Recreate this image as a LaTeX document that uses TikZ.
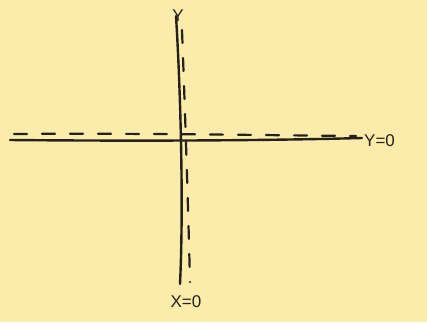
\documentclass[tikz,border=0pt]{standalone}
\usepackage{fontspec}
\setmainfont{Liberation Sans}
\definecolor{paper}{RGB}{252,236,172}
\definecolor{ink}{RGB}{38,32,26}
\begin{document}
\begin{tikzpicture}[x=1pt,y=-1pt,
  solidax/.style={draw=ink,line width=2.4pt,line cap=round},
  dashax/.style={draw=ink,line width=2.2pt,line cap=round,dash pattern=on 13pt off 15pt},
  lbl/.style={text=ink,font=\fontsize{17}{17}\selectfont,inner sep=0pt}]
\fill[paper] (0,0) rectangle (427,322);
\useasboundingbox (0,0) rectangle (427,322);
% coordinates
\coordinate (vtop) at (176,16);
\coordinate (vbot) at (180,284);
\coordinate (hl) at (10,140);
\coordinate (hr) at (362,138);
\coordinate (dvt) at (182,30);
\coordinate (dvb) at (190,282);
\coordinate (dhl) at (14,134);
\coordinate (dhr) at (356,136);
% solid axes
\draw[solidax] (vtop) .. controls (180,80) and (184,200) .. (vbot);
\draw[solidax] (hl) .. controls (120,141) and (250,141) .. (hr);
% dashed asymptotes
\draw[dashax] (dvt) .. controls (185,110) and (188,200) .. (dvb);
\draw[dashax] (dhl) .. controls (120,133) and (250,135) .. (dhr);
% labels
\node[lbl] (ylab) at (178,16) {Y};
\node[lbl,anchor=west] (y0) at (364,141) {Y=0};
\node[lbl] (x0) at (186,302) {X=0};
\end{tikzpicture}
\end{document}
